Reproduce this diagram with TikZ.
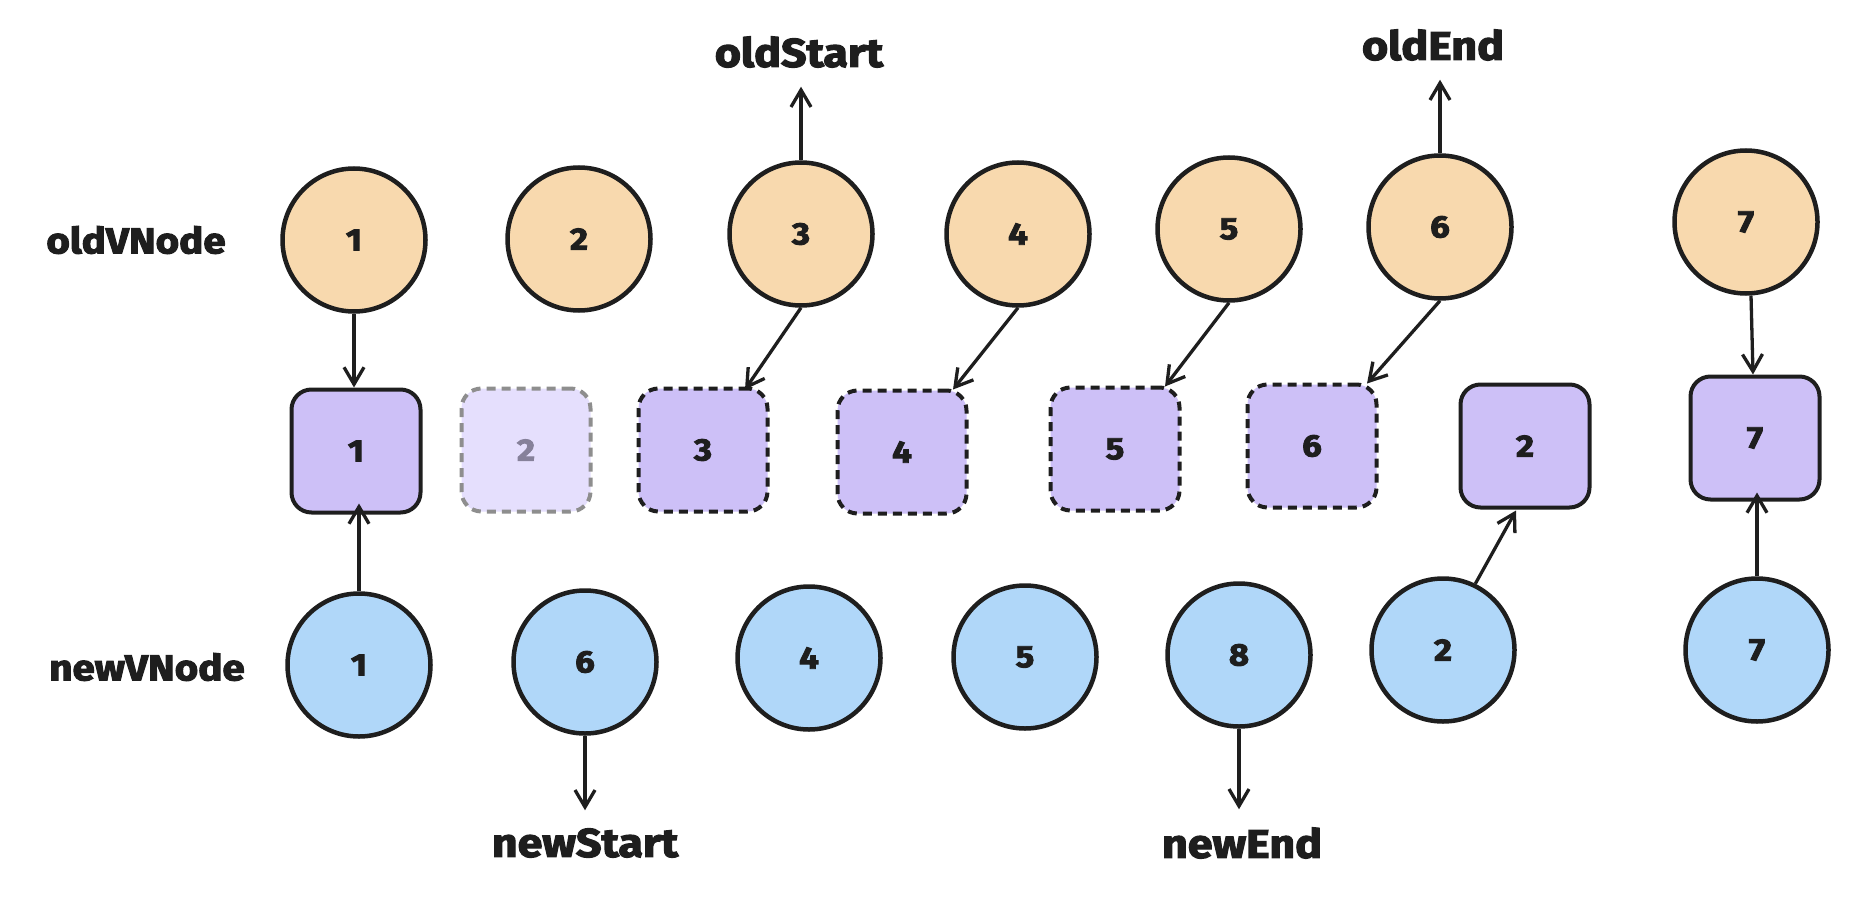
\documentclass[tikz,border=0pt]{standalone}
\usepackage{fontspec}
\setmainfont{Fira Sans}
\newfontfamily\hand[FakeStretch=1.12,FakeBold=3]{Fira Sans}
\usetikzlibrary{arrows.meta}
\definecolor{ink}{HTML}{1E1E1E}
\definecolor{oldfill}{HTML}{F8D9AE}
\definecolor{newfill}{HTML}{B0D7F9}
\definecolor{sqfill}{HTML}{CDC0F7}
\definecolor{fadefill}{HTML}{E5DFFD}
\definecolor{fadeline}{HTML}{8E8E8E}
\definecolor{fadetext}{HTML}{86819A}
\begin{document}
\begin{tikzpicture}[x=1pt,y=-1pt,
  vc/.style={circle, draw=ink, line width=4.5pt, minimum size=143pt, inner sep=0pt,
    font=\hand\bfseries\fontsize{31}{31}\selectfont, text=ink},
  oldc/.style={vc, fill=oldfill},
  newc/.style={vc, fill=newfill},
  sq/.style={rectangle, rounded corners=20pt, draw=ink, line width=4pt, fill=sqfill,
    minimum width=129pt, minimum height=123pt, inner sep=0pt,
    font=\hand\bfseries\fontsize{31}{31}\selectfont, text=ink},
  dsq/.style={sq, dash pattern=on 9pt off 6pt},
  fsq/.style={sq, dash pattern=on 9pt off 6pt, draw=fadeline, fill=fadefill, text=fadetext},
  lab/.style={font=\hand\bfseries\fontsize{36}{36}\selectfont, text=ink, inner sep=0pt},
  toplab/.style={font=\hand\bfseries\fontsize{40}{40}\selectfont, text=ink, inner sep=0pt},
  arr/.style={draw=ink, line width=3.3pt, -{Straight Barb[length=17pt,width=20pt]}}
]
\useasboundingbox (0,0) rectangle (1870,904);

% row labels
\node[lab] (oldlab) at (136,240) {oldVNode};
\node[lab] (newlab) at (147,667) {newVNode};

% pointer labels
\node[toplab] (oldStart) at (799,52) {oldStart};
\node[toplab] (oldEnd) at (1433,45) {oldEnd};
\node[toplab] (newStart) at (585,843) {newStart};
\node[toplab] (newEnd) at (1242,843) {newEnd};

% old vnodes
\node[oldc] (o1) at (354,240) {1};
\node[oldc] (o2) at (579,239) {2};
\node[oldc] (o3) at (801,234) {3};
\node[oldc] (o4) at (1018,234) {4};
\node[oldc] (o5) at (1229,229) {5};
\node[oldc] (o6) at (1440,227) {6};
\node[oldc] (o7) at (1746,222) {7};

% real dom squares
\node[sq]  (s1)  at (356,451) {1};
\node[fsq] (s2f) at (526,450) {2};
\node[dsq] (s3)  at (703,450) {3};
\node[dsq] (s4)  at (902,452) {4};
\node[dsq] (s5)  at (1115,449) {5};
\node[dsq] (s6)  at (1312,446) {6};
\node[sq]  (s2)  at (1525,446) {2};
\node[sq]  (s7)  at (1755,438) {7};

% new vnodes
\node[newc] (n1) at (359,665) {1};
\node[newc] (n6) at (585,662) {6};
\node[newc] (n4) at (809,658) {4};
\node[newc] (n5) at (1025,657) {5};
\node[newc] (n8) at (1239,655) {8};
\node[newc] (n2) at (1443,650) {2};
\node[newc] (n7) at (1757,650) {7};

% pointer tips
\coordinate (osTip) at ([yshift=-19pt]oldStart.south);
\coordinate (oeTip) at ([yshift=-19pt]oldEnd.south);
\coordinate (nsTip) at ([yshift=18pt]newStart.north);
\coordinate (neTip) at ([yshift=18pt]newEnd.north);

% pointers
\draw[arr] (o3.north) -- (o3.north |- osTip);
\draw[arr] (o6.north) -- (o6.north |- oeTip);
\draw[arr] (n6.south) -- (n6.south |- nsTip);
\draw[arr] (n8.south) -- (n8.south |- neTip);

% old -> dom
\draw[arr] (o1.south) -- (o1.south |- s1.north);
\draw[arr] (o3.south) -- ([xshift=42pt,yshift=-3pt]s3.north);
\draw[arr] (o4.south) -- ([xshift=51pt,yshift=-1pt]s4.north);
\draw[arr] (o5.south) -- ([xshift=50pt,yshift=-1pt]s5.north);
\draw[arr] (o6.south) -- ([xshift=55pt,yshift=-1pt]s6.north);
\draw[arr] ([xshift=5pt]o7.south) -- ([xshift=-2pt]s7.north);

% new -> dom
\draw[arr] (n1.north) -- ([yshift=11pt]n1.north |- s1.south);
\draw[arr] (n2.64) -- ([xshift=-9pt,yshift=-1pt]s2.south);
\draw[arr] (n7.north) -- ([yshift=9pt]n7.north |- s7.south);
\end{tikzpicture}
\end{document}
